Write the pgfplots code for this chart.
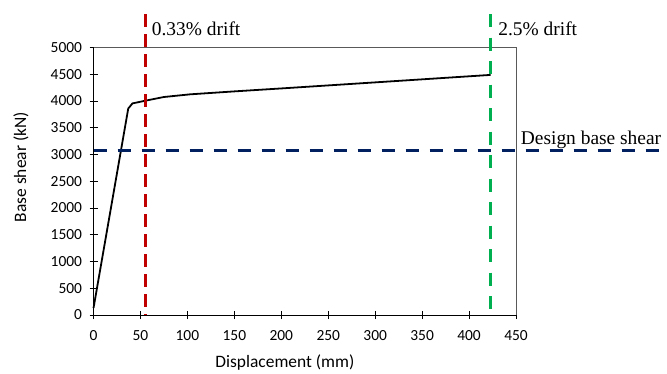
\documentclass[border=0pt]{standalone}
\usepackage{fontspec}
\setmainfont{Liberation Serif}
\newfontfamily\calib{Carlito}
\usepackage{pgfplots}
\pgfplotsset{compat=1.18}
\definecolor{dred}{HTML}{C00000}
\definecolor{dgreen}{HTML}{00B050}
\definecolor{dnavy}{HTML}{002060}
\begin{document}
\begin{tikzpicture}
\begin{axis}[
  scale only axis,
  width=422.5bp, height=267.5bp,
  xmin=0, xmax=450, ymin=0, ymax=5000,
  xtick={0,50,...,450}, ytick={0,500,...,5000},
  clip=false,
  axis line style={black, line width=0.9pt},
  tick align=center,
  major tick length=8bp,
  tick style={black, line width=0.8pt},
  minor tick num=0,
  axis lines*=left,
  /pgf/number format/assume math mode=true,
  /pgf/number format/1000 sep={},
  ticklabel style={font=\calib\fontsize{15.5}{18}\selectfont},
  xticklabel style={yshift=-8bp},
  yticklabel style={xshift=-4bp},
  xlabel={\calib\fontsize{17.5}{20}\selectfont Displacement (mm)},
  ylabel={\calib\fontsize{17.5}{20}\selectfont Base shear (kN)},
  xlabel style={at={(axis description cs:0.453,-0.179)}, anchor=center},
  ylabel style={at={(axis description cs:-0.1716,0.553)}, anchor=center},
]
\draw[gray!70!black, line width=0.6pt] (axis cs:0,5000) -- (axis cs:450,5000) -- (axis cs:450,0);
\addplot[black, line width=1.8pt, line join=round] coordinates {
(0,130) (37,3860) (41.5,3955) (55,4005) (75,4075) (103,4125) (150,4180) (200,4235) (268,4312) (350,4405) (423,4488)
};
\addplot[dred, line width=3.3pt, dash pattern=on 13bp off 7bp] coordinates {(55,5625) (55,0)};
\addplot[dgreen, line width=3.3pt, dash pattern=on 13bp off 10.5bp] coordinates {(423,5625) (423,0)};
\addplot[dnavy, line width=3.3pt, dash pattern=on 13.3bp off 10.7bp] coordinates {(0,3080) (606,3080)};
\node[anchor=west, font=\fontsize{19.5}{22}\selectfont, inner sep=0pt] at (axis cs:62,5350) {0.33\% drift};
\node[anchor=west, font=\fontsize{19.5}{22}\selectfont, inner sep=0pt] at (axis cs:431,5350) {2.5\% drift};
\node[anchor=west, font=\fontsize{19.5}{22}\selectfont, inner sep=0pt] at (axis cs:455,3270) {Design base shear};
\coordinate (bbsw) at (axis cs:-99.6,-1084);
\coordinate (bbne) at (axis cs:610.8,5888);
\end{axis}
\pgfresetboundingbox
\path (bbsw) rectangle (bbne);
\end{tikzpicture}
\end{document}
